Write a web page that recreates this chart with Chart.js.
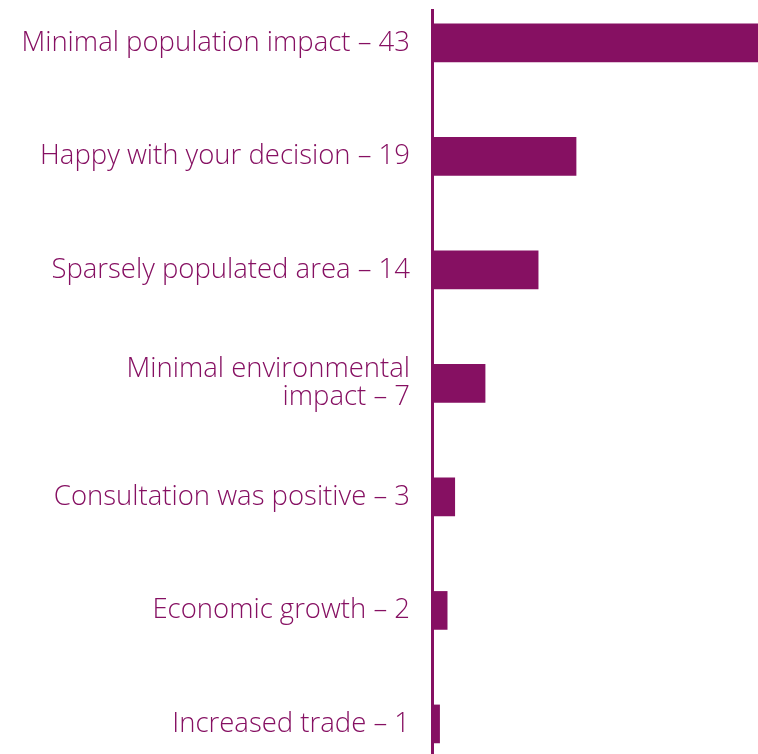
<!DOCTYPE html>
<html>
<head>
<meta charset="utf-8">
<script src="https://cdn.jsdelivr.net/npm/chart.js@4/dist/chart.umd.min.js"></script>
<style>
  html, body { margin: 0; padding: 0; background: #ffffff; }
  #wrap { position: relative; width: 758px; height: 754px; }
</style>
</head>
<body>
<div id="wrap"><canvas id="reasons"></canvas></div>
<script>
// categories and counts, top to bottom
var categories = [
  "Minimal population impact",
  "Happy with your decision",
  "Sparsely populated area",
  "Minimal environmental impact",
  "Consultation was positive",
  "Economic growth",
  "Increased trade"
];
var counts = [43, 19, 14, 7, 3, 2, 1];

var purple = "#861062";

// tick label = name + count, long ones broken onto two lines
function tickLabel(i) {
  var text = categories[i] + " \u2013 " + counts[i];
  if (text.length <= 30) return text;
  var cut = text.lastIndexOf(" ", 22);
  return [text.slice(0, cut), text.slice(cut + 1)];
}

var points = counts.map(function (v, i) { return { x: v, y: i }; });

var ctx = document.getElementById("reasons");
new Chart(ctx, {
  type: "bar",
  data: {
    datasets: [{
      data: points,
      backgroundColor: purple,
      borderWidth: 0,
      barThickness: 38
    }]
  },
  options: {
    indexAxis: "y",
    responsive: true,
    maintainAspectRatio: false,
    animation: false,
    layout: { padding: { top: 10, right: 0, bottom: 0, left: 0 } },
    plugins: { legend: { display: false }, tooltip: { enabled: false } },
    scales: {
      x: {
        type: "linear",
        min: 0,
        max: 43,
        display: false
      },
      y: {
        type: "linear",
        reverse: true,
        offset: false,
        min: -0.29,
        max: 6.265,
        grid: { display: false, drawTicks: false },
        border: { display: true, color: purple, width: 3 },
        afterFit: function (scale) {
          scale.width = 432;
          scale.paddingTop = 0;
          scale.paddingBottom = 0;
        },
        ticks: {
          stepSize: 1,
          includeBounds: false,
          autoSkip: false,
          padding: 22,
          color: purple,
          font: { family: "'Open Sans'", size: 27.5, weight: 300, lineHeight: 1.02 },
          callback: function (value) {
            if (Number.isInteger(value) && value >= 0 && value < categories.length) {
              return tickLabel(value);
            }
            return "";
          }
        }
      }
    }
  }
});
</script>
</body>
</html>
